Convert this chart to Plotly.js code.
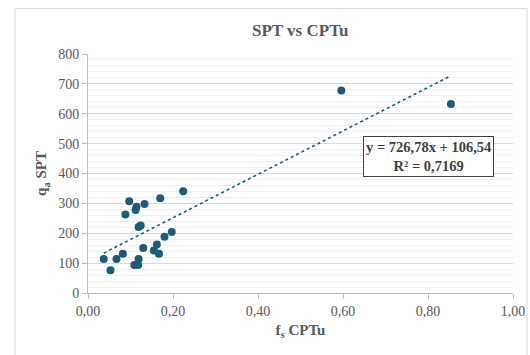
<!DOCTYPE html>
<html>
<head>
<meta charset="utf-8">
<script src="https://cdn.plot.ly/plotly-3.0.1.min.js"></script>
<style>html,body{margin:0;padding:0;background:#fff;}#chart{width:530px;height:355px;}</style>
</head>
<body>
<div id="chart"></div>
<script>
var fsCPTu = [0.037, 0.053, 0.067, 0.082, 0.097, 0.088, 0.114, 0.112, 0.133, 0.170, 0.224, 0.119, 0.124, 0.130, 0.109, 0.118, 0.119, 0.162, 0.155, 0.167, 0.180, 0.197, 0.596, 0.854];
var qaSPT  = [114, 76, 114, 131, 307, 263, 289, 278, 298, 317, 341, 221, 226, 151, 94, 94, 114, 162, 142, 131, 188, 204, 678, 633];
var slope = 726.78, intercept = 106.54, r2 = "0,7169";
var xTickVals = [0, 0.2, 0.4, 0.6, 0.8, 1.0];
var xTickText = ["0,00", "0,20", "0,40", "0,60", "0,80", "1,00"];

var xmin = Math.min.apply(null, fsCPTu), xmax = Math.max.apply(null, fsCPTu);
var trendX = [xmin, xmax];
var trendY = trendX.map(function(x){ return slope * x + intercept; });

var col = '#1d5b7b';
var txt = '#595959';
var font = 'Times New Roman, Liberation Serif, serif';

var data = [
  {x: trendX, y: trendY, mode: 'lines', type: 'scatter',
   line: {color: col, width: 1.6, dash: 'dot'}, hoverinfo: 'skip'},
  {x: fsCPTu, y: qaSPT, mode: 'markers', type: 'scatter',
   marker: {color: col, size: 8}}
];

var layout = {
  width: 530, height: 355,
  margin: {l: 87.5, r: 17, t: 53.5, b: 61.5},
  paper_bgcolor: '#fff', plot_bgcolor: '#fff',
  showlegend: false,
  font: {family: font, color: txt, size: 14},
  title: {text: '<b>SPT vs CPTu</b>', font: {family: font, size: 17, color: txt},
          x: 0.5664, xanchor: 'center', y: 0.915, yanchor: 'middle'},
  xaxis: {range: [0, 1], tickvals: xTickVals, ticktext: xTickText,
          showgrid: false, zeroline: false, showline: true, linecolor: '#bfbfbf', linewidth: 1,
          ticks: 'outside', ticklen: 5, tickcolor: '#bfbfbf',
          tickfont: {family: font, size: 14, color: txt},
          title: {text: '<b>f<sub>s</sub> CPTu</b>', font: {family: font, size: 15, color: txt}, standoff: 6}},
  yaxis: {range: [0, 800], dtick: 100, tick0: 0,
          showgrid: true, gridcolor: '#d9d9d9', gridwidth: 1,
          zeroline: false, showline: true, linecolor: '#bfbfbf', linewidth: 1,
          ticks: 'outside', ticklen: 5, tickcolor: '#bfbfbf',
          tickfont: {family: font, size: 14, color: txt},
          minor: {dtick: 20, showgrid: true, gridcolor: '#f0f0f0', gridwidth: 1, ticks: ''},
          title: {text: '<b>q<sub>a</sub> SPT</b>', font: {family: font, size: 15, color: txt}, standoff: 7}},
  shapes: [
    {type: 'rect', xref: 'paper', yref: 'paper', x0: -0.172, x1: 1.033, y0: -0.60, y1: 1.19,
     line: {color: '#d9d9d9', width: 1}, fillcolor: 'rgba(0,0,0,0)', layer: 'below'}
  ],
  annotations: [
    {xref: 'paper', yref: 'paper', x: 0.8, y: 0.57, xanchor: 'center', yanchor: 'middle',
     text: '<b>y = 726,78x + 106,54<br>R² = ' + r2 + '</b>', showarrow: false,
     font: {family: font, size: 14.5, color: '#404040'}, align: 'center',
     bgcolor: '#fff', bordercolor: '#404040', borderwidth: 1, borderpad: 2}
  ]
};

Plotly.newPlot('chart', data, layout, {displayModeBar: false, staticPlot: true});
</script>
</body>
</html>
